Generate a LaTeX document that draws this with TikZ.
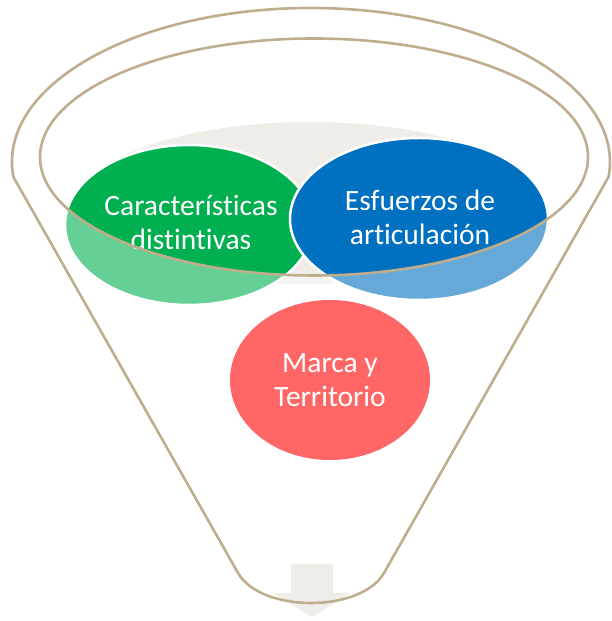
\documentclass[tikz,border=0pt]{standalone}
\usepackage{fontspec}
\setmainfont[Ligatures={NoCommon}]{Carlito}
\definecolor{rim}{HTML}{BFAE8E}
\definecolor{pale}{HTML}{EFEDE8}
\definecolor{cgreen}{HTML}{00B050}
\definecolor{cblue}{HTML}{0070C0}
\definecolor{cred}{HTML}{FF0000}
\begin{document}
\begin{tikzpicture}[x=1pt,y=1pt,
  rimline/.style={draw=rim,line width=2.6pt},
  bubble/.style={draw=white,line width=2.5pt},
  lbl/.style={text=white,align=center,font=\fontsize{29.5}{34}\selectfont,inner sep=0pt}]
\useasboundingbox (0,0) rectangle (611,621);
% background pale ellipse
\fill[pale] (310,418) ellipse [x radius=229, y radius=81];
% circles
\path[fill=cgreen,bubble] (189,396) ellipse [x radius=124, y radius=80];
\path[fill=cblue,bubble] (419,402) ellipse [x radius=129, y radius=81];
\fill[cred] (330,241) ellipse [x radius=100, y radius=80];
% translucent funnel body
\fill[white,opacity=0.4,even odd rule]
  (13.4,444) arc [start angle=185.6, end angle=-5.6, x radius=299, y radius=154]
  -- (384,48) .. controls (361,8) and (261,8) .. (238,48) -- cycle
  (314,464) ellipse [x radius=274, y radius=118.5];
% labels
\node[lbl,anchor=base] (t1) at (191,371) {Características\\distintivas};
\node[lbl,anchor=base] (t2) at (420,376) {Esfuerzos de\\articulación};
\node[lbl,anchor=base] (t3) at (330,214) {Marca y\\Territorio};
% arrow
\fill[pale] (291,57) -- (333,57) -- (333,28) -- (351,28) -- (312,4) -- (273,28) -- (291,28) -- cycle;
% funnel outlines
\draw[rimline] (314,464) ellipse [x radius=274, y radius=118.5];
\draw[rimline,line join=round]
  (13.4,444) arc [start angle=185.6, end angle=-5.6, x radius=299, y radius=154]
  -- (384,48) .. controls (361,8) and (261,8) .. (238,48) -- cycle;
\end{tikzpicture}
\end{document}
